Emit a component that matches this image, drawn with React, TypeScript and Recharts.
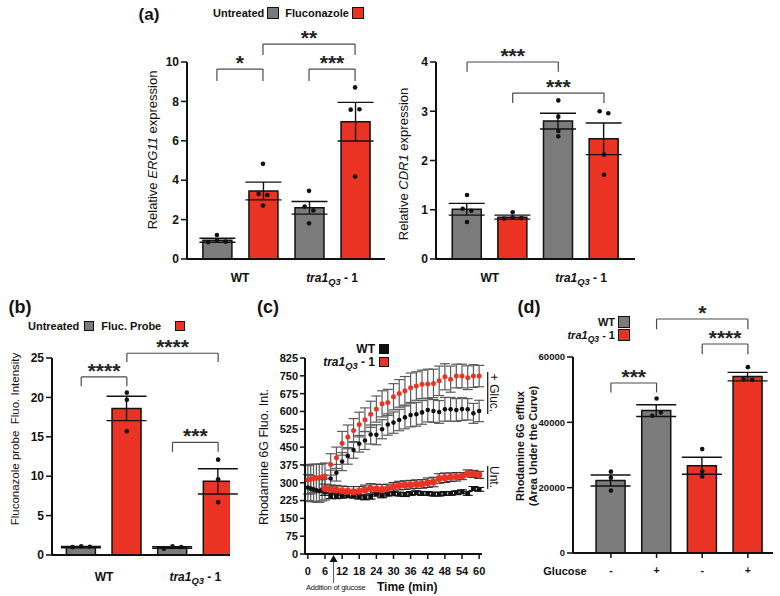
import React from 'react'
import {
  ComposedChart,
  Bar,
  Cell,
  ErrorBar,
  Scatter,
  XAxis,
  YAxis,
  ReferenceLine,
  ReferenceDot,
} from 'recharts'

const FONT = '"Liberation Sans", Arial, Helvetica, sans-serif'
const GREY = '#7b7b7b'
const RED = '#ea3323'
const INK = '#111'
const BRACKET = '#4a4a4a'

// bar slots on a numeric x axis (1..4), group labels sit between pairs
const slots = [1, 2, 3, 4]
const groupTicks = [1.5, 3.5]

// (a) ERG11 relative expression
const erg11Mean = [0.95, 3.45, 2.6, 6.97]
const erg11Sem = [0.1, 0.45, 0.32, 0.98]
const erg11Reps = [
  [1.22, 0.85, 0.93, 0.88],
  [4.83, 3.3, 3.25, 2.71],
  [3.46, 2.66, 2.46, 1.81],
  [8.71, 7.58, 7.6, 4.19],
]

// (a) CDR1 relative expression
const cdr1Mean = [1.01, 0.85, 2.8, 2.44]
const cdr1Sem = [0.12, 0.04, 0.16, 0.32]
const cdr1Reps = [
  [1.3, 1.02, 0.98, 0.75],
  [0.95, 0.82, 0.84, 0.83],
  [3.22, 2.89, 2.6, 2.49],
  [3.0, 2.96, 2.12, 1.71],
]

// (b) fluconazole probe fluorescence
const probeMean = [1.0, 18.6, 0.95, 9.35]
const probeSem = [0.08, 1.55, 0.1, 1.6]
const probeReps = [
  [1.0, 1.1, 1.05],
  [20.6, 19.7, 15.7],
  [0.8, 1.1, 1.0],
  [12.1, 9.6, 6.7],
]

// (d) rhodamine 6G efflux, area under the curve
const aucMean = [22200, 43600, 26700, 54000]
const aucSem = [1700, 1800, 2600, 1300]
const aucReps = [
  [24900, 23000, 19100],
  [47300, 42000, 43000],
  [31800, 25000, 23400],
  [56900, 53200, 53000],
]
const glucoseMarks = ['-', '+', '-', '+']

// (c) rhodamine 6G time course
const glucTimes = [0, 1, 2, 3, 4, 5, 6, 8, 10, 12, 14, 16, 18, 20, 22, 24, 26, 28, 30, 32, 34, 36, 38, 40, 42, 44, 46, 48, 50, 52, 54, 56, 58, 60]
const wtGluc = [280, 275, 272, 268, 265, 268, 272, 318, 342, 389, 413, 438, 464, 478, 503, 502, 525, 545, 553, 564, 575, 585, 588, 596, 606, 602, 598, 609, 609, 606, 610, 609, 592, 602]
const wtGlucErr = [55, 55, 50, 50, 48, 45, 45, 35, 35, 38, 35, 35, 35, 38, 40, 42, 40, 45, 45, 45, 48, 50, 50, 50, 50, 48, 48, 50, 50, 48, 48, 45, 42, 45]
const traGluc = [312, 315, 318, 320, 322, 325, 328, 377, 405, 466, 493, 520, 545, 565, 588, 610, 632, 638, 662, 676, 687, 700, 707, 714, 716, 718, 729, 746, 736, 749, 749, 742, 749, 749]
const traGlucErr = [60, 62, 60, 58, 55, 55, 55, 45, 45, 50, 50, 50, 52, 50, 55, 55, 55, 55, 55, 58, 60, 62, 60, 60, 62, 60, 62, 55, 55, 50, 50, 50, 48, 45]
const untTimes = [6, 8, 10, 12, 14, 16, 18, 20, 22, 24, 26, 28, 30, 32, 34, 36, 38, 40, 42, 44, 46, 48, 50, 52, 54, 56, 58, 60]
const wtUnt = [262, 245, 245, 245, 248, 245, 241, 238, 241, 252, 245, 252, 255, 252, 250, 255, 258, 255, 255, 252, 252, 255, 255, 258, 262, 255, 276, 272]
const wtUntErr = [15, 12, 12, 10, 10, 10, 10, 10, 10, 8, 8, 8, 8, 8, 8, 8, 8, 8, 8, 8, 8, 8, 8, 8, 8, 8, 8, 8]
const traUnt = [276, 272, 269, 266, 264, 262, 264, 270, 276, 274, 272, 276, 283, 288, 290, 292, 294, 295, 300, 303, 318, 321, 323, 325, 328, 339, 337, 333]
const traUntErr = [18, 18, 20, 20, 20, 22, 20, 20, 20, 20, 20, 18, 18, 18, 18, 18, 18, 18, 20, 20, 20, 20, 18, 18, 15, 15, 15, 15]
const timeTicks = [0, 6, 12, 18, 24, 30, 36, 42, 48, 54, 60]
const rhoTicks = [0, 75, 150, 225, 300, 375, 450, 525, 600, 675, 750, 825]

type Bracket = { from: number; to: number; at: number; drop: number; stars: string }

// spread replicate dots sideways when they would sit on top of each other
function fanOut(vals: number[], near: number) {
  const offs = vals.map(() => 0)
  const done = vals.map(() => false)
  vals.forEach((v, i) => {
    if (done[i]) return
    const group = vals.map((_, j) => j).filter((j) => !done[j] && Math.abs(vals[j] - v) < near)
    group.forEach((j, n) => {
      offs[j] = (n - (group.length - 1) / 2) * 0.19
      done[j] = true
    })
  })
  return offs
}

const tickText = (size: number) => ({ fontSize: size, fontWeight: 'bold', fill: INK, fontFamily: FONT })

function groupTick(names: Record<string, string>, size: number) {
  return (p: any) => {
    const name = names[String(p.payload.value)]
    if (name === 'tra') {
      return (
        <text x={p.x} y={p.y} textAnchor="middle" fontSize={size} fontWeight="bold" fontFamily={FONT} fill={INK} style={{ whiteSpace: 'pre' }}>
          <tspan dy="0.71em" fontStyle="italic">tra1</tspan>
          <tspan fontStyle="italic" fontSize={size * 0.78} dy={size * 0.3}>Q3</tspan>
          <tspan dy={-size * 0.3}> - 1</tspan>
        </text>
      )
    }
    return (
      <text x={p.x} y={p.y} textAnchor="middle" fontSize={size} fontWeight="bold" fontFamily={FONT} fill={INK}>
        <tspan dy="0.71em">{name}</tspan>
      </text>
    )
  }
}

const blackDot = (p: any) => <circle cx={p.cx} cy={p.cy} r={2.3} fill={INK} />

function bracketLines(list: Bracket[], starSize: number) {
  return list.flatMap((b, i) => [
    <ReferenceLine
      key={'h' + i}
      segment={[{ x: b.from, y: b.at }, { x: b.to, y: b.at }]}
      stroke={BRACKET}
      strokeWidth={1.2}
      ifOverflow="visible"
      label={{ value: b.stars, position: 'top', offset: -1, fill: '#222', fontSize: starSize, fontWeight: 'bold', fontFamily: FONT }}
    />,
    <ReferenceLine key={'l' + i} segment={[{ x: b.from, y: b.at }, { x: b.from, y: b.at - b.drop }]} stroke={BRACKET} strokeWidth={1.2} ifOverflow="visible" />,
    <ReferenceLine key={'r' + i} segment={[{ x: b.to, y: b.at }, { x: b.to, y: b.at - b.drop }]} stroke={BRACKET} strokeWidth={1.2} ifOverflow="visible" />,
  ])
}

type PanelProps = {
  left: number
  top: number
  width: number
  height: number
  margin: { top: number; right: number; bottom: number; left: number }
  xDomain: [number, number]
  yDomain: [number, number]
  yTicks: number[]
  means: number[]
  sems: number[]
  reps: number[][]
  fills: string[]
  brackets: Bracket[]
  tickFont: number
  capWidth: number
  groupNames?: Record<string, string>
  groupMargin?: number
  slotMarks?: string[]
}

function BarPanel(p: PanelProps) {
  const rows = slots.map((s, i) => ({ x: s, mean: p.means[i], sem: p.sems[i] }))
  const span = p.yDomain[1] - p.yDomain[0]
  const dots = p.reps.flatMap((vals, i) => {
    const offs = fanOut(vals, span * 0.025)
    return vals.map((v, k) => ({ x: slots[i] + offs[k], y: v }))
  })
  return (
    <div style={{ position: 'absolute', left: p.left, top: p.top }}>
      <ComposedChart width={p.width} height={p.height} data={rows} margin={p.margin}>
        <XAxis
          type="number"
          dataKey="x"
          domain={p.xDomain}
          ticks={slots}
          allowDataOverflow
          interval={0}
          axisLine={{ stroke: INK, strokeWidth: 2 }}
          tickLine={{ stroke: INK, strokeWidth: 1.5 }}
          tickSize={p.slotMarks ? 5 : 7}
          tickMargin={9}
          height={p.slotMarks ? 24 : 8}
          tick={p.slotMarks ? tickText(p.tickFont + 1) : false}
          tickFormatter={(v: number) => (p.slotMarks ? p.slotMarks[slots.indexOf(v)] : '')}
        />
        <XAxis
          xAxisId="dots"
          type="number"
          dataKey="x"
          domain={p.xDomain}
          ticks={groupTicks}
          allowDataOverflow
          interval={0}
          hide={!p.groupNames}
          axisLine={false}
          tickLine={false}
          tickSize={0}
          tickMargin={p.groupMargin ?? 6}
          height={24}
          tick={p.groupNames ? groupTick(p.groupNames, p.tickFont) : false}
        />
        <YAxis
          type="number"
          domain={p.yDomain}
          ticks={p.yTicks}
          allowDataOverflow
          interval={0}
          width={45}
          axisLine={{ stroke: INK, strokeWidth: 2 }}
          tickLine={{ stroke: INK, strokeWidth: 1.5 }}
          tickSize={6}
          tickMargin={2}
          tick={tickText(p.tickFont)}
        />
        <Bar dataKey="mean" barSize={29} stroke={INK} strokeWidth={1.5} isAnimationActive={false}>
          {rows.map((r, i) => (
            <Cell key={i} fill={p.fills[i]} />
          ))}
          <ErrorBar dataKey="sem" direction="y" width={p.capWidth} stroke={INK} strokeWidth={1.4} />
        </Bar>
        <Scatter xAxisId="dots" data={dots} dataKey="y" shape={blackDot} isAnimationActive={false} />
        {bracketLines(p.brackets, 21)}
      </ComposedChart>
    </div>
  )
}

function Note(props: { x: number; y: number; size: number; bold?: boolean; anchor?: 'start' | 'middle' | 'end'; rotate?: number; children: React.ReactNode; lineHeight?: number }) {
  const shift = props.anchor === 'middle' ? '-50%' : props.anchor === 'end' ? '-100%' : '0'
  return (
    <div
      style={{
        position: 'absolute',
        left: props.x,
        top: props.y,
        transform: `translate(${shift}, -50%)` + (props.rotate ? ` rotate(${props.rotate}deg)` : ''),
        transformOrigin: props.anchor === 'middle' ? 'center' : undefined,
        fontSize: props.size,
        fontWeight: props.bold ? 'bold' : 'normal',
        whiteSpace: 'nowrap',
        lineHeight: props.lineHeight ? props.lineHeight + 'px' : 1,
        textAlign: 'center',
        color: INK,
      }}
    >
      {props.children}
    </div>
  )
}

const Swatch = ({ color, size }: { color: string; size: number }) => (
  <span style={{ display: 'inline-block', width: size, height: size, background: color, border: `1.5px solid ${INK}`, boxSizing: 'border-box', verticalAlign: 'middle' }} />
)

const Tra = () => (
  <span>
    <i>tra1</i>
    <i style={{ fontSize: '0.78em', position: 'relative', top: '0.3em' }}>Q3</i> - 1
  </span>
)

function LegendRow(props: { x: number; y: number; right?: boolean; size: number; gap: number; children: React.ReactNode }) {
  return (
    <div
      style={{
        position: 'absolute',
        left: props.right ? undefined : props.x,
        right: props.right ? 780 - props.x : undefined,
        top: props.y,
        transform: 'translateY(-50%)',
        display: 'flex',
        alignItems: 'center',
        gap: props.gap,
        fontSize: props.size,
        fontWeight: 'bold',
        whiteSpace: 'nowrap',
        color: INK,
      }}
    >
      {props.children}
    </div>
  )
}

const arrowMark = (p: any) => (
  <g>
    <path d={`M${p.cx},${p.cy + 1} L${p.cx - 4},${p.cy + 8} L${p.cx + 4},${p.cy + 8} Z`} fill={INK} />
    <line x1={p.cx} y1={p.cy + 8} x2={p.cx} y2={p.cy + 29} stroke="#555" strokeWidth={1} />
  </g>
)

function TimeCourse() {
  const wtG = glucTimes.map((t, i) => ({ t, v: wtGluc[i], e: wtGlucErr[i] }))
  const traG = glucTimes.map((t, i) => ({ t, v: traGluc[i], e: traGlucErr[i] }))
  const wtU = untTimes.map((t, i) => ({ t, v: wtUnt[i], e: wtUntErr[i] }))
  const traU = untTimes.map((t, i) => ({ t, v: traUnt[i], e: traUntErr[i] }))
  return (
    <div style={{ position: 'absolute', left: 250, top: 340 }}>
      <ComposedChart width={260} height={256} margin={{ top: 18, right: 28, bottom: 22, left: 10 }}>
        <XAxis
          type="number"
          dataKey="t"
          domain={[-1, 61]}
          ticks={timeTicks}
          allowDataOverflow
          interval={0}
          height={20}
          axisLine={{ stroke: INK, strokeWidth: 2 }}
          tickLine={{ stroke: INK, strokeWidth: 1.5 }}
          tickSize={5}
          tickMargin={8}
          tick={tickText(11)}
        />
        <YAxis
          type="number"
          domain={[0, 825]}
          ticks={rhoTicks}
          allowDataOverflow
          interval={0}
          width={45}
          axisLine={{ stroke: INK, strokeWidth: 2 }}
          tickLine={{ stroke: INK, strokeWidth: 1.5 }}
          tickSize={5}
          tickMargin={2}
          tick={tickText(11)}
        />
        <Scatter data={wtG} dataKey="v" isAnimationActive={false} shape={(p: any) => <circle cx={p.cx} cy={p.cy} r={2.3} fill={INK} />}>
          <ErrorBar dataKey="e" direction="y" width={5} stroke="#5a5a5a" strokeWidth={1.2} />
        </Scatter>
        <Scatter data={traG} dataKey="v" isAnimationActive={false} shape={(p: any) => <circle cx={p.cx} cy={p.cy} r={2.5} fill={RED} />}>
          <ErrorBar dataKey="e" direction="y" width={5} stroke="#5a5a5a" strokeWidth={1.2} />
        </Scatter>
        <Scatter data={wtU} dataKey="v" isAnimationActive={false} shape={(p: any) => <rect x={p.cx - 2.4} y={p.cy - 2.4} width={4.8} height={4.8} fill={INK} />}>
          <ErrorBar dataKey="e" direction="y" width={5} stroke={INK} strokeWidth={1.1} />
        </Scatter>
        <Scatter data={traU} dataKey="v" isAnimationActive={false} shape={(p: any) => <circle cx={p.cx} cy={p.cy} r={3.5} fill={RED} />}>
          <ErrorBar dataKey="e" direction="y" width={5} stroke="#333" strokeWidth={1.1} />
        </Scatter>
        <ReferenceDot x={9} y={0} ifOverflow="visible" shape={arrowMark} />
        <ReferenceLine segment={[{ x: 63, y: 766 }, { x: 63, y: 589 }]} stroke={INK} strokeWidth={1.2} ifOverflow="visible" />
        <ReferenceLine segment={[{ x: 63, y: 370 }, { x: 63, y: 274 }]} stroke={INK} strokeWidth={1.2} ifOverflow="visible" />
      </ComposedChart>
    </div>
  )
}

export default function App() {
  return (
    <div style={{ position: 'absolute', left: 0, top: 0, width: 780, height: 596, background: '#fff', fontFamily: FONT, overflow: 'hidden' }}>
      <BarPanel
        left={100}
        top={20}
        width={300}
        height={280}
        margin={{ top: 42, right: 15, bottom: 9, left: 42 }}
        xDomain={[0.35, 4.65]}
        yDomain={[0, 10]}
        yTicks={[0, 2, 4, 6, 8, 10]}
        means={erg11Mean}
        sems={erg11Sem}
        reps={erg11Reps}
        fills={[GREY, RED, GREY, RED]}
        brackets={[
          { from: 1, to: 2, at: 9.64, drop: 0.6, stars: '*' },
          { from: 3, to: 4, at: 9.64, drop: 0.6, stars: '***' },
          { from: 2, to: 4, at: 10.91, drop: 0.56, stars: '**' },
        ]}
        tickFont={12}
        capWidth={18}
        groupNames={{ '1.5': 'WT', '3.5': 'tra' }}
        groupMargin={6}
      />
      <BarPanel
        left={380}
        top={20}
        width={270}
        height={280}
        margin={{ top: 42, right: 15, bottom: 9, left: 11 }}
        xDomain={[0.32, 4.68]}
        yDomain={[0, 4]}
        yTicks={[0, 1, 2, 3, 4]}
        means={cdr1Mean}
        sems={cdr1Sem}
        reps={cdr1Reps}
        fills={[GREY, RED, GREY, RED]}
        brackets={[
          { from: 1, to: 3, at: 4.0, drop: 0.2, stars: '***' },
          { from: 2, to: 4, at: 3.37, drop: 0.2, stars: '***' },
        ]}
        tickFont={12}
        capWidth={18}
        groupNames={{ '1.5': 'WT', '3.5': 'tra' }}
        groupMargin={6}
      />
      <BarPanel
        left={0}
        top={330}
        width={250}
        height={266}
        margin={{ top: 28, right: 20, bottom: 9, left: 7 }}
        xDomain={[0.36, 4.26]}
        yDomain={[0, 25]}
        yTicks={[0, 5, 10, 15, 20, 25]}
        means={probeMean}
        sems={probeSem}
        reps={probeReps}
        fills={[GREY, RED, GREY, RED]}
        brackets={[
          { from: 1, to: 2, at: 22.6, drop: 1.2, stars: '****' },
          { from: 2, to: 4, at: 25.6, drop: 1.1, stars: '****' },
          { from: 3, to: 4, at: 14.3, drop: 1.2, stars: '***' },
        ]}
        tickFont={12}
        capWidth={20}
        groupNames={{ '1.5': 'WT', '3.5': 'tra' }}
        groupMargin={9}
      />
      <TimeCourse />
      <BarPanel
        left={510}
        top={300}
        width={270}
        height={296}
        margin={{ top: 57, right: 7, bottom: 19, left: 18 }}
        xDomain={[0.17, 4.55]}
        yDomain={[0, 60000]}
        yTicks={[0, 20000, 40000, 60000]}
        means={aucMean}
        sems={aucSem}
        reps={aucReps}
        fills={[GREY, GREY, RED, RED]}
        brackets={[
          { from: 1, to: 2, at: 52040, drop: 2900, stars: '***' },
          { from: 3, to: 4, at: 63980, drop: 3150, stars: '****' },
          { from: 2, to: 4, at: 71630, drop: 3150, stars: '*' },
        ]}
        tickFont={9.5}
        capWidth={20}
        slotMarks={glucoseMarks}
      />

      {/* panel (a) header */}
      <Note x={149} y={14} size={17} bold anchor="middle">(a)</Note>
      <LegendRow x={213} y={13} size={11} gap={3}>
        <span>Untreated</span>
        <Swatch color={GREY} size={12} />
        <span style={{ marginLeft: 3 }}>Fluconazole</span>
        <Swatch color={RED} size={12} />
      </LegendRow>
      <Note x={152} y={150} size={13} anchor="middle" rotate={-90}>
        Relative <i>ERG11</i> expression
      </Note>
      <Note x={403} y={164} size={13} anchor="middle" rotate={-90}>
        Relative <i>CDR1</i> expression
      </Note>

      {/* panel (b) */}
      <Note x={20} y={307} size={18} bold anchor="middle">(b)</Note>
      <LegendRow x={28} y={326} size={11} gap={5}>
        <span>Untreated</span>
        <Swatch color={GREY} size={10} />
        <span style={{ marginLeft: 2 }}>Fluc. Probe</span>
        <span style={{ width: 4 }} />
        <Swatch color={RED} size={10} />
      </LegendRow>
      <Note x={16} y={439} size={11.5} anchor="middle" rotate={-90}>
        Fluconazole probe&nbsp; Fluo. Intensity
      </Note>

      {/* panel (c) */}
      <Note x={268} y={307} size={18} bold anchor="middle">(c)</Note>
      <LegendRow x={389} y={349} right size={12} gap={4}>
        <span>WT</span>
        <Swatch color={INK} size={10} />
      </LegendRow>
      <LegendRow x={389} y={362} right size={12} gap={4}>
        <Tra />
        <Swatch color={RED} size={10} />
      </LegendRow>
      <Note x={264} y={457} size={12.5} anchor="middle" rotate={-90}>
        Rhodamine 6G Fluo. Int.
      </Note>
      <Note x={494} y={393} size={12} anchor="middle" rotate={90}>+ Gluc.</Note>
      <Note x={494} y={477} size={12} anchor="middle" rotate={90}>Unt.</Note>
      <Note x={306} y={588} size={7.5}>
        <span style={{ letterSpacing: -0.2 }}>Addition of glucose</span>
      </Note>
      <Note x={377} y={587} size={12} bold>Time (min)</Note>

      {/* panel (d) */}
      <Note x={529} y={307} size={18} bold anchor="middle">(d)</Note>
      <LegendRow x={630} y={322} right size={11} gap={3}>
        <span>WT</span>
        <Swatch color={GREY} size={12} />
      </LegendRow>
      <LegendRow x={630} y={335} right size={11} gap={3}>
        <Tra />
        <Swatch color={RED} size={12} />
      </LegendRow>
      <Note x={526} y={446} size={11} bold anchor="middle" rotate={-90} lineHeight={12.5}>
        Rhodamine 6G efflux
        <br />
        (Area Under the Curve)
      </Note>
      <Note x={565} y={571} size={11} bold anchor="middle">Glucose</Note>
    </div>
  )
}
